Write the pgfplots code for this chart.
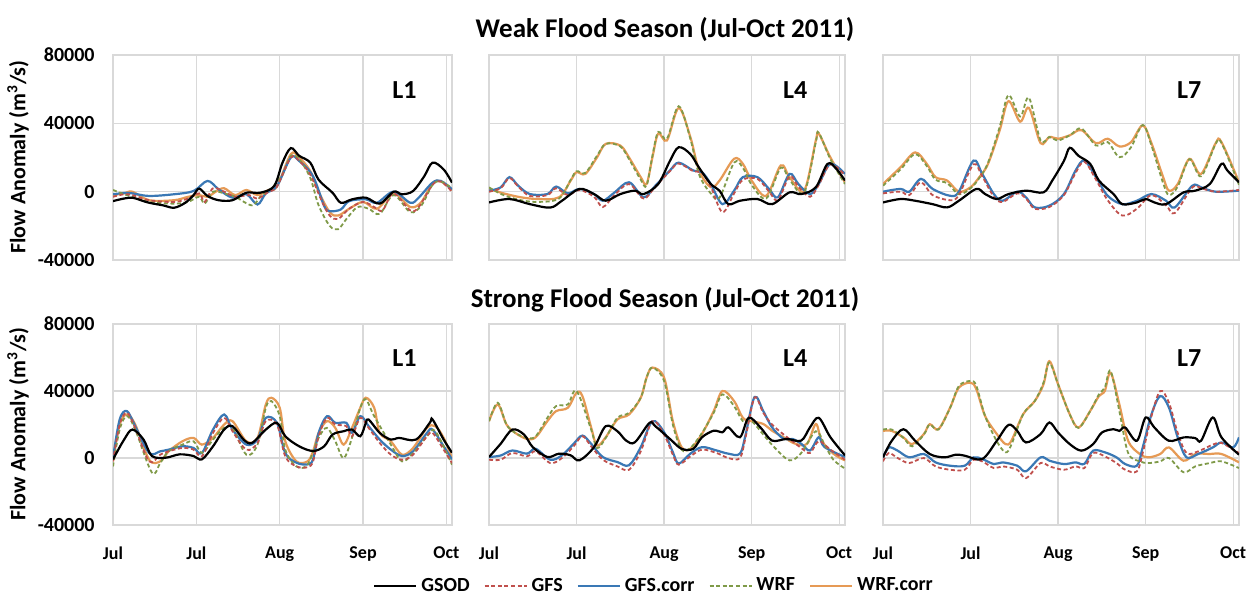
\documentclass[border=0pt]{standalone}
\usepackage{pgfplots}
\pgfplotsset{compat=1.18}
\usepackage{fontspec}
\setmainfont{Carlito}
\definecolor{gridgray}{HTML}{D9D9D9}
\definecolor{gfsred}{HTML}{C0504D}
\definecolor{gfsblue}{HTML}{3A78B5}
\definecolor{wrfgreen}{HTML}{7F9A48}
\definecolor{wrforange}{HTML}{E69A55}
\pgfplotsset{
 panel/.style={scale only axis, anchor=north west, xmin=0,xmax=122,ymin=-40000,ymax=80000,
   xtick={0,30,60,90,120}, ytick={-40000,0,40000,80000}, grid=major,
   major grid style={draw=gridgray, line width=0.6pt},
   axis line style={draw=gridgray, line width=0.6pt}, major tick length=0pt,
   xticklabels={}, yticklabels={}, scaled y ticks=false,
   every axis plot/.append style={no markers, smooth, tension=0.55}},
 gsod/.style={black, line width=1.1pt},
 gfs/.style={gfsred, line width=0.9pt, dash pattern=on 2pt off 1.3pt},
 gfsc/.style={gfsblue, line width=1.1pt},
 wrf/.style={wrfgreen, line width=0.9pt, dash pattern=on 2pt off 1.3pt},
 wrfc/.style={wrforange, line width=1.1pt},
 leftcol/.style={yticklabels={-40000,0,40000,80000},
   yticklabel style={font=\fontsize{10}{12}\bfseries\selectfont, anchor=east, inner sep=0pt, xshift=-9pt}},
 bottomrow/.style={xticklabels={Jul,Jul,Aug,Sep,Oct},
   xticklabel style={font=\fontsize{9}{11}\bfseries\selectfont, anchor=north, inner sep=0pt, yshift=-10.5pt}},
}
\newcommand{\lab}[1]{\node[font=\fontsize{13}{15}\bfseries\selectfont] at (rel axis cs:0.86,0.83) {#1};}
\begin{document}
\begin{tikzpicture}
\path[use as bounding box, fill=white] (0,0) rectangle (626.5pt,-298pt);
\node[font=\fontsize{13.5}{16}\bfseries\selectfont] at (332.5pt,-15pt) {Weak Flood Season (Jul-Oct 2011)};
\node[font=\fontsize{13.5}{16}\bfseries\selectfont] at (332.5pt,-150pt) {Strong Flood Season (Jul-Oct 2011)};
\node[rotate=90, font=\fontsize{11}{13}\bfseries\selectfont] at (9pt,-78.5pt) {Flow Anomaly (m\textsuperscript{3}/s)};
\node[rotate=90, font=\fontsize{11}{13}\bfseries\selectfont] at (9pt,-212pt) {Flow Anomaly (m\textsuperscript{3}/s)};

% ---------- Weak L1
\begin{axis}[panel, leftcol, at={(56.5pt,-27.5pt)}, width=169.5pt, height=102.5pt]
\addplot[wrfc] coordinates {(0,-2000)(4,-1000)(7,0)(13,-5000)(22,-5000)(27,-3000)(31,-2000)(34,-3000)(37,0)(40,2000)(44,-2000)(48,1000)(52,-2000)(56,1000)(59,3000)(64,22000)(67,20000)(71,12000)(74,0)(78,-12000)(81,-14000)(85,-10000)(90,-6000)(95,-10000)(101,-1000)(107,-9000)(111,-6000)(115,5000)(118,6000)(122,1000)};
\addplot[gfsc] coordinates {(0,-1500)(4,-800)(7,-1000)(13,-2500)(22,-1500)(29,400)(34,6300)(38,1400)(43,-3500)(48,-1500)(52,-7500)(55,-1000)(59,3300)(64,20000)(67,18000)(72,9000)(76,-8400)(78,-11400)(82,-10400)(85,-5500)(91,-4500)(95,-6500)(101,0)(107,-6500)(110,-3500)(115,5300)(118,6300)(122,1400)};
\addplot[wrf] coordinates {(0,1000)(4,-1500)(7,-3000)(13,-6000)(22,-7000)(27,-6000)(31,-3000)(33,-7000)(36,0)(40,-1000)(44,-3000)(50,-8000)(53,-3000)(57,2000)(61,10000)(64,21000)(67,19000)(71,8000)(74,-8000)(78,-20000)(81,-22000)(84,-16000)(88,-9000)(92,-10000)(96,-13000)(101,-2000)(107,-12000)(111,-8000)(115,4000)(118,6000)(122,2000)};
\addplot[gfs] coordinates {(0,-3000)(4,-1500)(7,-2000)(13,-5000)(22,-6000)(27,-4000)(31,-1000)(33,-6000)(36,2000)(40,0)(44,-3000)(49,-2000)(52,-4000)(56,0)(59,3000)(64,20000)(67,18000)(71,10000)(75,-5000)(78,-14000)(81,-16000)(85,-10000)(90,-6000)(94,-9000)(97,-11000)(101,-1000)(107,-11000)(110,-9000)(115,4000)(118,6000)(122,0)};
\addplot[gsod] coordinates {(0,-5500)(4,-4000)(7,-3500)(10,-5000)(13,-6500)(18,-8000)(22,-9400)(26,-6500)(29,-2000)(31,1800)(34,-2500)(38,-5000)(43,-5000)(48,-600)(53,-600)(58,3300)(61,17000)(64,25500)(67,21000)(71,17000)(74,7000)(79,-600)(82,-6500)(86,-4500)(91,-3500)(96,-7000)(101,0)(104,-1500)(108,400)(112,9000)(115,17000)(119,13000)(122,5300)};
\lab{L1}
\end{axis}

% ---------- Weak L4
\begin{axis}[panel, at={(244.5pt,-27.5pt)}, width=178pt, height=102.5pt]
\addplot[wrfc] coordinates {(0,1600)(5,-1000)(11,-3300)(17,-4300)(24,-3300)(28,6500)(30,11400)(33,10400)(37,20000)(40,28000)(45,27000)(48,20000)(52,8500)(54,4500)(56,20000)(58,34000)(61,30000)(65,49000)(69,32000)(72,12400)(76,2600)(79,6500)(84,19300)(87,16300)(90,6500)(95,-2400)(100,15400)(103,8500)(108,600)(112,30000)(113,34000)(117,20000)(122,5500)};
\addplot[gfsc] coordinates {(0,600)(4,2500)(7,8500)(10,3500)(14,-1400)(20,-1400)(23,3000)(27,-1000)(31,1600)(36,-1400)(39,-5300)(43,-500)(48,5500)(53,-3300)(57,3500)(62,12400)(65,17000)(70,12400)(73,11400)(76,4500)(80,-7300)(84,600)(87,8500)(92,8500)(96,1500)(99,-3300)(103,10400)(106,4500)(110,-1400)(113,4500)(117,16300)(122,10400)};
\addplot[wrf] coordinates {(0,2500)(5,-2000)(11,-5000)(17,-6000)(24,-4000)(28,7000)(30,12000)(33,11000)(37,21000)(40,28000)(45,26500)(48,19000)(52,7000)(54,3500)(56,21000)(58,35000)(61,31000)(65,50000)(69,31000)(72,10000)(76,-1000)(79,-3500)(84,17000)(87,14000)(90,4000)(95,-4000)(100,14000)(103,7000)(108,-500)(112,29000)(113,34500)(117,19000)(122,4500)};
\addplot[gfs] coordinates {(0,0)(4,2000)(7,8000)(10,3000)(14,-2500)(20,-2000)(23,2000)(27,-2000)(31,1000)(36,-3000)(39,-9000)(43,-2000)(48,4500)(53,-4000)(57,3000)(62,12000)(65,16500)(70,12000)(73,11000)(76,3000)(80,-12000)(84,-1000)(87,7000)(92,7500)(96,0)(99,-5000)(103,9000)(106,3000)(110,-3000)(113,4000)(117,16000)(122,9500)};
\addplot[gsod] coordinates {(0,-6300)(7,-4300)(14,-7300)(21,-9300)(25,-5300)(31,1600)(36,-1400)(40,-5300)(45,-1400)(50,600)(53,-1400)(58,4500)(62,18000)(65,26000)(69,22000)(72,14000)(76,4500)(79,600)(82,-7300)(86,-5300)(92,-4300)(97,-7300)(103,-400)(107,-1400)(112,2600)(116,16300)(119,13400)(122,6500)};
\lab{L4}
\end{axis}

% ---------- Weak L7
\begin{axis}[panel, at={(441.5pt,-27.5pt)}, width=178pt, height=102.5pt]
\addplot[wrfc] coordinates {(0,4500)(6,14300)(11,23000)(15,16300)(18,8500)(22,6500)(26,0)(30,2600)(33,8500)(36,16300)(40,36000)(43,53000)(47,41000)(50,49000)(54,28400)(57,32000)(60,31000)(64,33000)(68,36000)(73,28400)(77,31000)(81,26500)(85,29000)(89,38800)(92,28400)(96,8500)(98,600)(101,4500)(105,19200)(109,10400)(114,28400)(116,29000)(122,5500)};
\addplot[gfsc] coordinates {(0,0)(6,1600)(9,0)(13,7500)(17,1600)(23,-2400)(26,0)(31,18200)(34,10400)(38,-1400)(41,-5300)(46,0)(49,-3300)(52,-9200)(57,-8200)(62,-1400)(66,12400)(69,18200)(73,8500)(77,-2400)(82,-7300)(87,-5300)(92,-1400)(97,-5300)(100,-9200)(106,3500)(109,2500)(114,0)(122,600)};
\addplot[wrf] coordinates {(0,3500)(6,13000)(11,22000)(15,15000)(18,7000)(22,5000)(26,-1500)(30,2000)(33,8000)(36,17000)(40,38000)(43,56500)(47,44000)(50,55000)(54,30000)(57,32000)(60,30000)(64,33000)(68,37000)(73,27000)(77,29000)(81,20200)(85,26000)(89,39000)(92,27000)(96,5000)(98,-2000)(101,3000)(105,19000)(109,9000)(114,28000)(116,28500)(122,4000)};
\addplot[gfs] coordinates {(0,-1000)(6,0)(9,-2000)(13,5500)(17,-2000)(23,-5000)(26,-2000)(31,16000)(34,9000)(38,-3000)(41,-6000)(46,-1000)(49,-4000)(52,-10000)(57,-9000)(62,-2000)(66,11000)(69,17500)(73,7000)(77,-5000)(82,-14000)(87,-10000)(92,-2000)(97,-8000)(100,-12500)(106,2500)(109,2000)(114,0)(122,1000)};
\addplot[gsod] coordinates {(0,-6300)(6,-4300)(11,-5300)(17,-7300)(22,-9200)(26,-5300)(32,1600)(35,-1400)(39,-4300)(43,-1400)(49,600)(55,-400)(58,6500)(62,18000)(64,25700)(67,21000)(71,16300)(74,6500)(79,-1400)(82,-7300)(87,-6300)(90,-4300)(93,-6300)(97,-7300)(103,-400)(107,600)(112,4500)(116,16300)(118,12400)(122,5500)};
\lab{L7}
\end{axis}

% ---------- Strong L1
\begin{axis}[panel, leftcol, bottomrow, at={(56.5pt,-162pt)}, width=169.5pt, height=100.5pt]
\addplot[wrfc] coordinates {(0,-2000)(2.4,20000)(5,26000)(8,20000)(13,-1000)(17,-2000)(20,4000)(25,10000)(29,12000)(32,8000)(36,12000)(40,20000)(43,22000)(48,10000)(52,12000)(55,32000)(57,36000)(60,30000)(62,10000)(66,-2000)(70,-2000)(72,4000)(74,15000)(77,22000)(80,18000)(83,8000)(86,18000)(89,30000)(91,36000)(94,30000)(96,15000)(100,10000)(104,2000)(108,6000)(113,18000)(116,19000)(119,12000)(122,0)};
\addplot[gfsc] coordinates {(0,0)(2.4,23000)(5,28000)(8,19000)(13,3000)(17,4000)(20,5000)(25,7000)(29,6000)(32,3000)(36,17000)(40,26000)(43,17000)(48,8000)(52,11000)(55,24000)(59,21000)(62,3000)(66,-2800)(70,-3800)(72,-800)(74,15000)(77,25000)(80,21000)(84,21000)(86,15000)(89,25000)(92,19000)(96,11000)(100,5000)(104,1200)(108,4000)(113,15000)(115,17000)(119,7000)(122,-800)};
\addplot[wrf] coordinates {(0,-5000)(2.4,17000)(5,25000)(8,17000)(14,-8700)(17,-3000)(20,4000)(25,8000)(29,10000)(32,3000)(36,11000)(40,18000)(43,18000)(48,2000)(52,8000)(55,30000)(57,34000)(60,25000)(62,5000)(66,-5000)(70,-4000)(74,12000)(77,18000)(80,10000)(83,0)(86,12000)(89,30000)(91,35000)(94,25000)(100,8000)(104,-2000)(108,3000)(113,13000)(116,16000)(122,-4000)};
\addplot[gfs] coordinates {(0,-2000)(2.4,20000)(5,27000)(8,18000)(13,-2000)(17,2000)(20,4000)(25,6000)(29,5000)(32,1000)(36,15000)(40,24000)(43,16000)(48,5000)(52,9000)(55,22000)(59,20000)(62,1000)(66,-5000)(70,-5500)(72,-2000)(74,13000)(77,24000)(80,20000)(84,19000)(86,13000)(89,24000)(92,18000)(96,9000)(100,2000)(104,-1000)(108,2000)(113,13000)(115,15000)(119,5000)(122,-3000)};
\addplot[gsod] coordinates {(0,-800)(4,11000)(7,17000)(11,11000)(14,1200)(19,200)(24,2200)(29,1200)(32,-800)(36,7000)(40,17000)(43,19000)(47,11000)(50,9000)(55,17000)(59,21000)(62,13000)(67,7000)(72,4200)(76,7000)(79,14000)(83,16000)(86,17000)(89,13000)(91,21000)(92,23000)(96,15000)(100,11000)(103,12000)(109,11000)(114,21000)(115,23000)(119,11000)(122,3200)};
\lab{L1}
\end{axis}

% ---------- Strong L4
\begin{axis}[panel, bottomrow, at={(244.5pt,-162pt)}, width=178pt, height=100.5pt]
\addplot[wrfc] coordinates {(0,22000)(3,32000)(6,20000)(9,15000)(13,11400)(16,12400)(20,22000)(23,28000)(27,30000)(30,39000)(32,37000)(35,18300)(37,7500)(40,12400)(44,23000)(48,26000)(52,36000)(54,48000)(56,54000)(60,48000)(63,22000)(66,6500)(69,5500)(73,14400)(77,28000)(80,40000)(84,34000)(87,24000)(90,22000)(94,20300)(97,16300)(101,12400)(105,8500)(109,8500)(112,20300)(114,10400)(118,2600)(122,-1400)};
\addplot[gfsc] coordinates {(0,600)(4,1500)(8,4500)(13,2600)(16,5500)(21,-1000)(25,1600)(29,8500)(32,13400)(35,8500)(39,600)(44,-2400)(48,-4300)(52,6500)(56,22000)(60,15400)(63,3500)(65,-3300)(69,2600)(73,6500)(78,4500)(82,2600)(86,2600)(88,14400)(91,36400)(94,28000)(97,18300)(101,11400)(104,11400)(107,8500)(110,4500)(113,12400)(115,6500)(122,600)};
\addplot[wrf] coordinates {(0,22000)(3,33000)(6,20000)(9,15000)(13,12000)(16,13000)(20,24000)(23,31000)(27,32000)(30,40000)(35,17000)(37,6000)(40,12000)(44,24000)(48,27000)(52,36000)(54,48000)(56,54000)(60,46000)(63,20000)(66,5000)(69,6000)(73,15000)(77,27000)(80,38000)(84,31000)(87,22000)(90,22000)(94,14000)(98,6000)(103,-1400)(107,3000)(112,16000)(115,8000)(118,-1000)(122,-6300)};
\addplot[gfs] coordinates {(0,-1000)(4,-1000)(8,3000)(13,1000)(16,4000)(21,-3000)(25,0)(29,7000)(32,13000)(35,7000)(39,-1000)(44,-5000)(48,-7000)(52,4000)(56,22000)(60,14000)(63,2000)(65,-4000)(69,1000)(73,5000)(78,3000)(82,0)(86,0)(88,13000)(91,36000)(94,27000)(97,20000)(101,14000)(104,10000)(107,6000)(110,3000)(113,10000)(117,5000)(122,-1000)};
\addplot[gsod] coordinates {(0,600)(4,8500)(8,17000)(12,14000)(15,6500)(20,600)(24,2600)(28,1600)(31,-1400)(36,6500)(40,19000)(44,16000)(47,10400)(50,9400)(55,21000)(57,19000)(62,11400)(66,5500)(70,5500)(73,12400)(77,16300)(80,15400)(82,18300)(86,12400)(89,24000)(93,18300)(97,10400)(102,11400)(107,10400)(110,18300)(113,24000)(117,12400)(122,1600)};
\lab{L4}
\end{axis}

% ---------- Strong L7
\begin{axis}[panel, bottomrow, at={(441.5pt,-162pt)}, width=178pt, height=100.5pt]
\addplot[wrfc] coordinates {(0,16200)(3,16200)(7,12300)(10,8300)(14,14300)(16,20200)(19,17200)(23,30100)(26,42000)(30,45000)(32,41000)(35,25000)(39,14300)(42,8300)(44,10300)(48,26100)(52,34000)(55,44000)(57,57800)(60,44000)(64,26100)(67,18200)(71,28100)(74,37000)(76,40000)(78,50900)(81,32000)(84,10300)(88,2400)(91,400)(95,2400)(98,6300)(103,-1600)(107,2400)(112,2400)(116,2400)(122,-2600)};
\addplot[gfsc] coordinates {(0,400)(2,6300)(5,4400)(9,400)(14,2400)(18,-2600)(23,-4600)(28,-4600)(31,400)(34,-600)(38,-3600)(41,-2600)(46,-4600)(49,-7900)(54,400)(57,-1600)(62,-3600)(66,-2600)(69,-3500)(72,4400)(76,3400)(80,400)(83,-3600)(87,-4600)(89,6300)(92,26100)(95,37000)(98,30100)(101,12300)(104,400)(108,2400)(113,6300)(116,9300)(120,6300)(122,12300)};
\addplot[wrf] coordinates {(0,17000)(3,17000)(7,12000)(10,7000)(14,14000)(16,20000)(19,17000)(23,30000)(26,43000)(30,46000)(32,43000)(35,25000)(39,10000)(42,3400)(44,8000)(48,26000)(52,34000)(55,45000)(57,57000)(60,44000)(64,26000)(67,18000)(71,28000)(74,38000)(76,42000)(78,52000)(81,28000)(84,3000)(88,-2000)(91,-3000)(95,-2000)(98,0)(103,-8500)(107,-5000)(112,-3000)(116,-2000)(122,-6000)};
\addplot[gfs] coordinates {(0,-2000)(2,3000)(5,0)(9,-3000)(14,0)(18,-5000)(23,-7000)(28,-7000)(31,-1000)(34,-2000)(38,-6000)(41,-5000)(46,-7000)(49,-12000)(54,-3000)(57,-5000)(62,-7000)(66,-5000)(69,-6000)(72,3000)(76,1000)(80,-3000)(83,-7000)(87,-8000)(89,3000)(92,25000)(95,40000)(98,33000)(101,15000)(104,3000)(108,4000)(113,8000)(116,9000)(120,5000)(122,3000)};
\addplot[gsod] coordinates {(0,400)(3,10300)(7,17200)(11,10300)(16,2400)(21,400)(25,2000)(28,1400)(34,-600)(39,10300)(43,19800)(46,16200)(49,9300)(54,14300)(57,21200)(60,15200)(64,8300)(68,4400)(72,8300)(75,15200)(79,17200)(81,16200)(83,18200)(87,10300)(90,24200)(93,18200)(98,10300)(103,12300)(107,11900)(109,10300)(113,24200)(116,12300)(122,2000)};
\lab{L7}
\end{axis}

% ---------- Legend
\begin{axis}[hide axis, scale only axis, width=1pt, height=1pt, anchor=center, at={(327.5pt,-293pt)},
  xmin=0,xmax=1,ymin=0,ymax=1, legend columns=5,
  legend style={at={(0.5,0.5)}, anchor=center, draw=none, fill=none, font=\fontsize{10}{12}\bfseries\selectfont,
    /tikz/every even column/.append style={column sep=5pt}, inner sep=0pt},
  legend image code/.code={\draw[#1] (0pt,0pt) -- (21pt,0pt);}]
\addlegendimage{gsod}\addlegendentry{GSOD}
\addlegendimage{gfs}\addlegendentry{GFS}
\addlegendimage{gfsc}\addlegendentry{GFS.corr}
\addlegendimage{wrf}\addlegendentry{WRF}
\addlegendimage{wrfc}\addlegendentry{WRF.corr}
\end{axis}
\end{tikzpicture}
\end{document}
